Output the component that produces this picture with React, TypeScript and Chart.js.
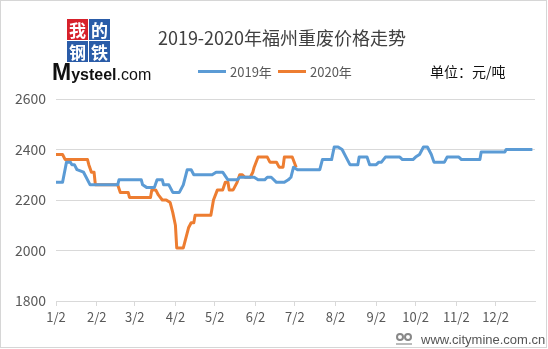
import React, { useEffect, useRef } from "react";
import { Chart, registerables } from "chart.js";

Chart.register(...registerables);

const TITLE = "2019-2020年福州重废价格走势";
const SERIES_NAMES = ["2019年", "2020年"];
const UNIT = "单位：元/吨";
const SOURCE = "www.citymine.com.cn";

const TICK_DAYS = [0, 31, 60, 91, 121, 152, 182, 213, 244, 274, 305, 335];
const TICK_LABELS = ["1/2", "2/2", "3/2", "4/2", "5/2", "6/2", "7/2", "8/2", "9/2", "10/2", "11/2", "12/2"];
const Y_TICKS = [1800, 2000, 2200, 2400, 2600];

const DAYS_2019 = [0, 5, 8, 11, 12, 14, 16, 21, 26, 47, 48, 65, 66, 69, 75, 77, 81, 82, 86, 89, 94, 97, 100, 103, 105, 119, 122, 127, 131, 138, 140, 151, 154, 159, 161, 164, 168, 174, 177, 179, 181, 184, 201, 203, 210, 212, 215, 218, 221, 224, 230, 231, 237, 239, 244, 246, 248, 251, 262, 264, 272, 274, 277, 280, 283, 286, 288, 296, 298, 307, 309, 323, 324, 342, 343, 363];
const PRICES_2019 = [2270, 2270, 2350, 2350, 2340, 2340, 2320, 2310, 2260, 2260, 2280, 2280, 2260, 2250, 2250, 2280, 2280, 2260, 2260, 2230, 2230, 2260, 2320, 2320, 2300, 2300, 2310, 2310, 2280, 2280, 2290, 2290, 2280, 2280, 2290, 2290, 2270, 2270, 2280, 2290, 2330, 2320, 2320, 2360, 2360, 2410, 2410, 2400, 2370, 2340, 2340, 2370, 2370, 2340, 2340, 2350, 2350, 2370, 2370, 2360, 2360, 2370, 2380, 2410, 2410, 2380, 2350, 2350, 2370, 2370, 2360, 2360, 2390, 2390, 2400, 2400];

const DAYS_2020 = [0, 5, 7, 24, 25, 27, 29, 30, 47, 49, 55, 56, 72, 73, 76, 78, 81, 84, 87, 89, 91, 92, 97, 100, 101, 103, 105, 106, 118, 120, 123, 127, 129, 131, 132, 135, 138, 140, 142, 144, 148, 150, 151, 154, 161, 163, 168, 170, 173, 174, 180, 183];
const PRICES_2020 = [2380, 2380, 2360, 2360, 2340, 2310, 2310, 2260, 2260, 2230, 2230, 2210, 2210, 2240, 2240, 2220, 2200, 2200, 2190, 2150, 2100, 2010, 2010, 2070, 2090, 2110, 2110, 2140, 2140, 2200, 2240, 2240, 2270, 2270, 2240, 2240, 2270, 2300, 2300, 2290, 2290, 2310, 2330, 2370, 2370, 2350, 2350, 2330, 2330, 2370, 2370, 2330];

const BLUE = "#5b9bd5";
const ORANGE = "#ed7d31";
const FONT = "'Noto Sans CJK SC', 'Noto Sans', sans-serif";

export default function App() {
  const canvasRef = useRef<HTMLCanvasElement | null>(null);

  useEffect(() => {
    if (!canvasRef.current) return;
    const chart = new Chart(canvasRef.current, {
      type: "line",
      data: {
        datasets: [
          {
            label: SERIES_NAMES[0],
            data: DAYS_2019.map((d, i) => ({ x: d, y: PRICES_2019[i] })),
            borderColor: BLUE,
            backgroundColor: BLUE,
            borderWidth: 3,
            pointRadius: 0,
            tension: 0,
            borderJoinStyle: "round",
          },
          {
            label: SERIES_NAMES[1],
            data: DAYS_2020.map((d, i) => ({ x: d, y: PRICES_2020[i] })),
            borderColor: ORANGE,
            backgroundColor: ORANGE,
            borderWidth: 3,
            pointRadius: 0,
            tension: 0,
            borderJoinStyle: "round",
          },
        ],
      },
      options: {
        animation: false,
        responsive: false,
        maintainAspectRatio: false,
        layout: { padding: { top: 99, right: 13, bottom: 0, left: 0 } },
        plugins: {
          legend: { display: false },
          title: { display: false },
          tooltip: { enabled: false },
        },
        scales: {
          x: {
            type: "linear",
            min: 0,
            max: 365,
            afterBuildTicks: (s: any) => {
              s.ticks = TICK_DAYS.map((v) => ({ value: v }));
            },
            afterFit: (s: any) => {
              s.height = 48;
            },
            ticks: {
              autoSkip: false,
              maxRotation: 0,
              minRotation: 0,
              padding: 3,
              color: "#595959",
              font: { size: 13, family: FONT },
              callback: (v: any) => {
                const i = TICK_DAYS.indexOf(Number(v));
                return i >= 0 ? TICK_LABELS[i] : "";
              },
            },
            grid: { drawOnChartArea: false, color: "#d9d9d9", tickLength: 5 },
            border: { color: "#d9d9d9" },
          },
          y: {
            min: 1800,
            max: 2600,
            afterBuildTicks: (s: any) => {
              s.ticks = Y_TICKS.map((v) => ({ value: v }));
            },
            afterFit: (s: any) => {
              s.width = 56;
            },
            ticks: {
              padding: 10,
              color: "#595959",
              font: { size: 14, family: FONT },
              callback: (v: any) => String(v),
            },
            grid: { color: "#d9d9d9", drawTicks: false },
            border: { display: false },
          },
        },
      },
    } as any);
    return () => chart.destroy();
  }, []);

  const box = (ch: string, bg: string, left: number, top: number) => (
    <div
      style={{
        position: "absolute",
        left,
        top,
        width: 21,
        height: 21,
        background: bg,
        color: "#fff",
        fontFamily: FONT,
        fontWeight: 700,
        fontSize: 17,
        lineHeight: "21px",
        textAlign: "center",
      }}
    >
      {ch}
    </div>
  );

  return (
    <div
      style={{
        position: "fixed",
        left: 0,
        top: 0,
        width: 548,
        height: 349,
        background: "#fff",
        overflow: "hidden",
      }}
    >
      <canvas ref={canvasRef} width={548} height={349} style={{ position: "absolute", left: 0, top: 0, width: 548, height: 349 }} />
      <div
        style={{
          position: "absolute",
          left: 0,
          top: 0,
          width: 547,
          height: 348,
          boxSizing: "border-box",
          border: "1px solid #d6d6d6",
          pointerEvents: "none",
        }}
      />
      {/* logo */}
      {box("我", "#d7212b", 67, 19)}
      {box("的", "#2a5ca8", 89, 19)}
      {box("钢", "#2a5ca8", 67, 41)}
      {box("铁", "#2a5ca8", 89, 41)}
      <div
        style={{
          position: "absolute",
          left: 52,
          top: 60,
          whiteSpace: "nowrap",
          fontFamily: "'Liberation Sans', Arial, sans-serif",
          color: "#111",
          lineHeight: "24px",
        }}
      >
        <span style={{ fontSize: 23, fontWeight: 700 }}>M</span>
        <span style={{ fontSize: 16, fontWeight: 700 }}>ysteel</span>
        <span style={{ fontSize: 16 }}>.com</span>
      </div>
      {/* title */}
      <div
        style={{
          position: "absolute",
          left: 282,
          top: 37,
          transform: "translate(-50%, -50%)",
          whiteSpace: "nowrap",
          fontFamily: FONT,
          fontSize: 18,
          lineHeight: 1,
          color: "#404040",
        }}
      >
        {TITLE}
      </div>
      {/* legend */}
      <div style={{ position: "absolute", left: 198, top: 70, width: 28, height: 3, background: BLUE }} />
      <div
        style={{
          position: "absolute",
          left: 230,
          top: 71,
          transform: "translateY(-50%)",
          fontFamily: FONT,
          fontSize: 13,
          lineHeight: 1,
          color: "#595959",
          whiteSpace: "nowrap",
        }}
      >
        {SERIES_NAMES[0]}
      </div>
      <div style={{ position: "absolute", left: 278, top: 70, width: 28, height: 3, background: ORANGE }} />
      <div
        style={{
          position: "absolute",
          left: 310,
          top: 71,
          transform: "translateY(-50%)",
          fontFamily: FONT,
          fontSize: 13,
          lineHeight: 1,
          color: "#595959",
          whiteSpace: "nowrap",
        }}
      >
        {SERIES_NAMES[1]}
      </div>
      {/* unit */}
      <div
        style={{
          position: "absolute",
          left: 430,
          top: 71,
          transform: "translateY(-50%)",
          fontFamily: FONT,
          fontSize: 14,
          lineHeight: 1,
          color: "#111",
          whiteSpace: "nowrap",
        }}
      >
        {UNIT}
      </div>
      {/* source */}
      <div style={{ position: "absolute", left: 396, top: 333, width: 8, height: 8, borderRadius: "50%", border: "2px solid #888", boxSizing: "border-box" }} />
      <div style={{ position: "absolute", left: 404, top: 333, width: 8, height: 8, borderRadius: "50%", border: "2px solid #888", boxSizing: "border-box" }} />
      <div style={{ position: "absolute", left: 396, top: 343, width: 16, height: 2, background: "#bbb" }} />
      <div
        style={{
          position: "absolute",
          left: 421,
          top: 339,
          transform: "translateY(-50%)",
          fontFamily: "'Liberation Sans', Arial, sans-serif",
          fontSize: 13,
          lineHeight: 1,
          color: "#555",
          whiteSpace: "nowrap",
        }}
      >
        {SOURCE}
      </div>
    </div>
  );
}
